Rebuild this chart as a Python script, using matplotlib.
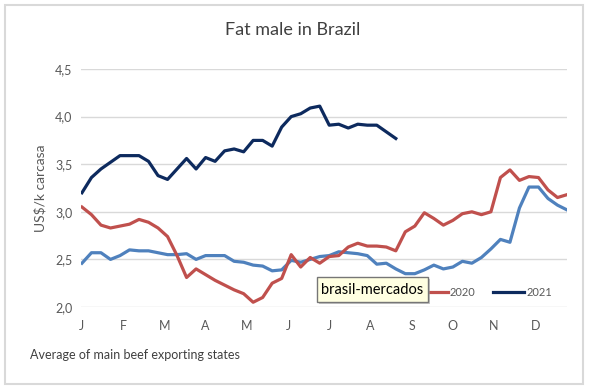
import numpy as np
import matplotlib
matplotlib.use("Agg")
import matplotlib.pyplot as plt
from matplotlib.patches import Rectangle

plt.rcParams['font.family'] = ['Lato', 'DejaVu Sans']

# weekly prices, US$/kg carcass
prices_2019 = [2.46, 2.57, 2.57, 2.50, 2.54, 2.60, 2.59, 2.59, 2.57, 2.55, 2.55, 2.56, 2.50,
               2.54, 2.54, 2.54, 2.48, 2.47, 2.44, 2.43, 2.38, 2.39, 2.49, 2.47, 2.50, 2.53,
               2.54, 2.58, 2.57, 2.56, 2.54, 2.45, 2.46, 2.40, 2.35, 2.35, 2.39, 2.44, 2.40,
               2.42, 2.48, 2.46, 2.52, 2.61, 2.71, 2.68, 3.04, 3.26, 3.26, 3.14, 3.07, 3.02]
prices_2020 = [3.05, 2.97, 2.86, 2.83, 2.85, 2.87, 2.92, 2.89, 2.83, 2.74, 2.54, 2.31, 2.40,
               2.34, 2.28, 2.23, 2.18, 2.14, 2.05, 2.10, 2.25, 2.30, 2.55, 2.42, 2.52, 2.46,
               2.53, 2.54, 2.63, 2.67, 2.64, 2.64, 2.63, 2.59, 2.79, 2.85, 2.99, 2.93, 2.86,
               2.91, 2.98, 3.00, 2.97, 3.00, 3.36, 3.44, 3.33, 3.37, 3.36, 3.23, 3.15, 3.18]
prices_2021 = [3.20, 3.36, 3.45, 3.52, 3.59, 3.59, 3.59, 3.53, 3.38, 3.34, 3.45, 3.56, 3.45,
               3.57, 3.53, 3.64, 3.66, 3.63, 3.75, 3.75, 3.69, 3.89, 4.00, 4.03, 4.09, 4.11,
               3.91, 3.92, 3.88, 3.92, 3.91, 3.91, 3.84, 3.77]
months = ["J", "F", "M", "A", "M", "J", "J", "A", "S", "O", "N", "D"]
yticks = [2.0, 2.5, 3.0, 3.5, 4.0, 4.5]

c2019 = "#4F81BD"
c2020 = "#C0504D"
c2021 = "#0D2A5E"
txt = "#595959"

W, H = 589, 389
fig = plt.figure(figsize=(W / 100, H / 100), dpi=100)
ax = fig.add_axes([81/W, 1 - 307/H, (567 - 81)/W, (307 - 69)/H])


def px_rect(x0, y0, x1, y1, **kw):
    # rectangle given in picture pixels from the top-left corner
    r = Rectangle((x0 / W, 1 - y1 / H), (x1 - x0) / W, (y1 - y0) / H,
                  transform=fig.transFigure, **kw)
    fig.patches.append(r)
    return r


# light frame around the whole chart
px_rect(5, 5, 583, 384, fill=False, edgecolor="#D9D9D9", linewidth=1.5)

ax.plot(np.arange(len(prices_2019)), prices_2019, color=c2019, lw=2.3,
        solid_joinstyle="round")
l20, = ax.plot(np.arange(len(prices_2020)), prices_2020, color=c2020, lw=2.3,
               solid_joinstyle="round")
l21, = ax.plot(np.arange(len(prices_2021)), prices_2021, color=c2021, lw=2.3,
               solid_joinstyle="round")

ax.set_xlim(-0.1, 51)
ax.set_ylim(2.0, 4.5)
ax.set_yticks(yticks)
ax.set_yticklabels([f"{v:.1f}".replace(".", ",") for v in yticks], color=txt, fontsize=9)
ax.set_xticks(np.arange(12) * 52 / 12)
ax.set_xticklabels(months, color=txt, fontsize=9)
ax.tick_params(axis="both", length=0)
ax.tick_params(axis="x", pad=9)
ax.tick_params(axis="y", pad=6)
ax.grid(axis="y", color="#D9D9D9", linewidth=1)
ax.set_axisbelow(True)
for s in ax.spines.values():
    s.set_visible(False)

ax.set_ylabel("US$/k carcasa", color=txt, fontsize=10, labelpad=6)

fig.text(293/W, 1 - 30/H, "Fat male in Brazil", ha="center", va="center",
         fontsize=13, color="#404040")
fig.text(30/W, 1 - 355/H, "Average of main beef exporting states", ha="left",
         va="center", fontsize=9, color="#404040")

# the 2019 legend entry sits under the tooltip, so only 2020 and 2021 show
leg = ax.legend([l20, l21], ["2020", "2021"], loc="center", bbox_to_anchor=(0.83, 0.06),
                ncol=2, frameon=False, fontsize=8, handlelength=2.8, columnspacing=1.6,
                handletextpad=0.2)
for t in leg.get_texts():
    t.set_color(txt)

# tooltip box with a soft shadow
px_rect(319, 279, 430, 304, facecolor="#A0A0A0", edgecolor="none", alpha=0.6, zorder=9)
px_rect(317, 277, 428, 302, facecolor="#FFFFE1", edgecolor="#767676", linewidth=1, zorder=9.5)
fig.text(372.5/W, 1 - 289.5/H, "brasil-mercados", ha="center", va="center", fontsize=10.5,
         color="black", zorder=10)

fig.savefig("out.png", dpi=100)
